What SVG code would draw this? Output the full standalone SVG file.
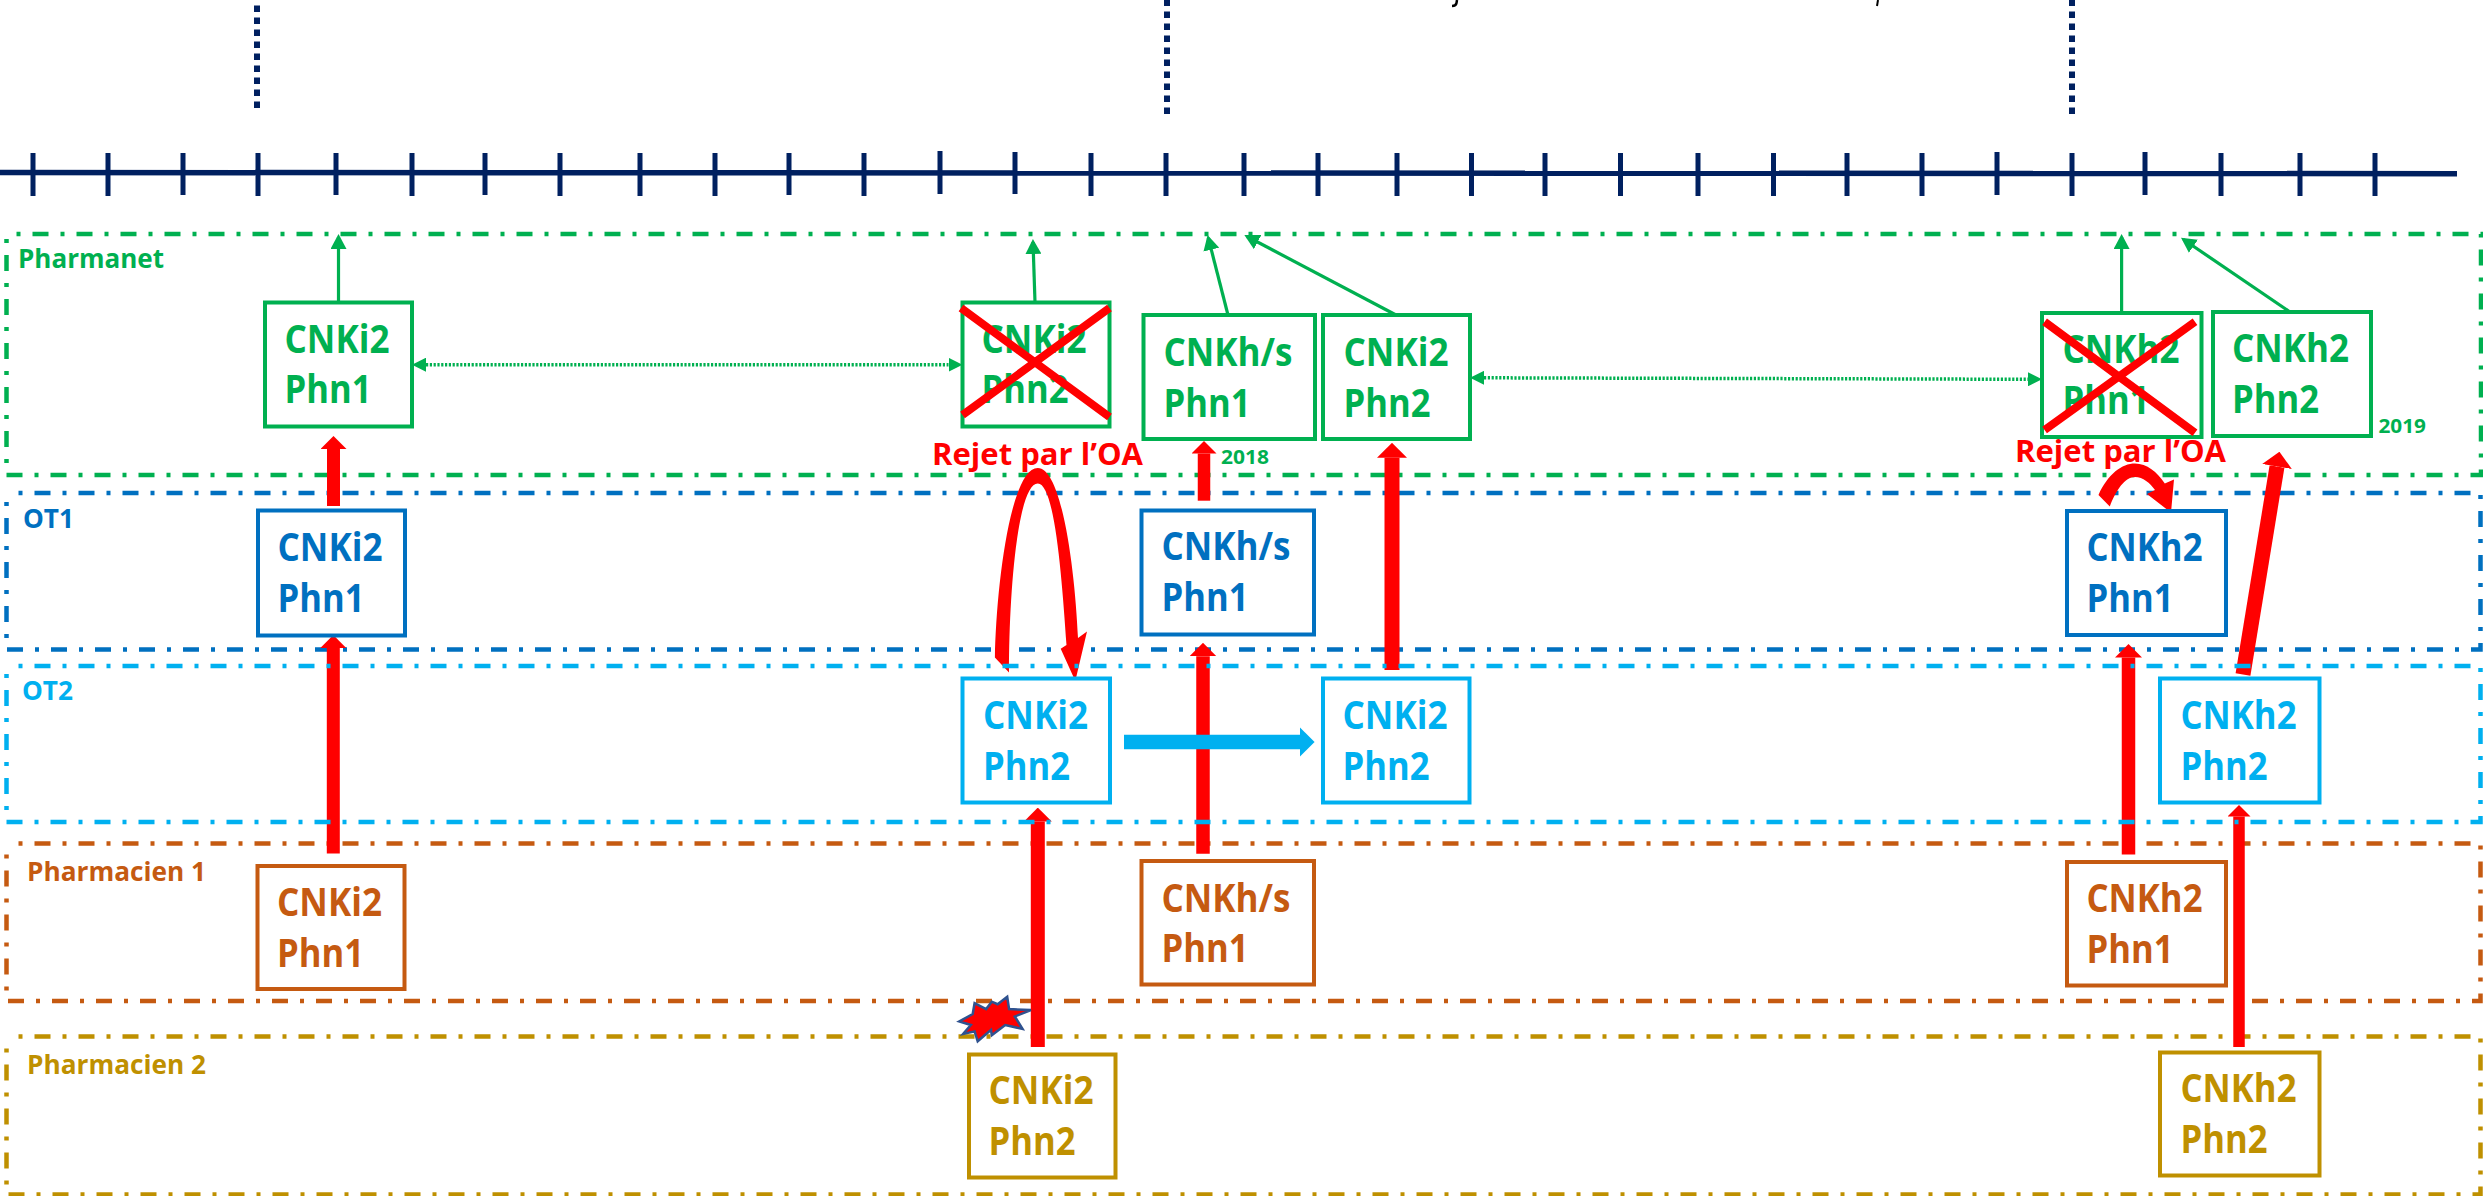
<svg xmlns="http://www.w3.org/2000/svg" width="2483" height="1196" viewBox="0 0 2483 1196">
<style>
text{font-family:"Open Sans","Noto Sans","Liberation Sans",sans-serif;font-weight:700}
.n{font-size:40px}
.l{font-size:27px}
.rej{font-size:31px;fill:#FF0000}
.yr{font-size:20px;fill:#00B050}
.box{fill:#fff;stroke-width:4}
.lane{fill:none;stroke-width:4.5;stroke-dasharray:16 12 4 12}
.g{fill:#00B050}.gs{stroke:#00B050}
.b{fill:#0070C0}.bs{stroke:#0070C0}
.c{fill:#00B0F0}.cs{stroke:#00B0F0}
.o{fill:#C55A11}.os{stroke:#C55A11}
.y{fill:#BF9000}.ys{stroke:#BF9000}
.tick{stroke:#002060;stroke-width:5}
.vd{stroke:#002060;stroke-width:6;stroke-dasharray:6.5 5.5}
.red{stroke:#FF0000;fill:none;marker-end:url(#rh)}
.rf{fill:#FF0000}
.thin{stroke:#00B050;stroke-width:3.2;fill:none;marker-end:url(#gh)}
.dot{stroke:#00B050;stroke-width:3.5;stroke-dasharray:2.2 1.6;fill:none;marker-start:url(#gd);marker-end:url(#gd)}
.x{stroke:#FF0000;stroke-width:8}
</style>
<defs>
<marker id="rh" markerUnits="strokeWidth" viewBox="0 0 1 2" refX="0" refY="1" markerWidth="1" markerHeight="2" orient="auto"><path d="M0,0L1,1L0,2Z" fill="#FF0000"/></marker>
<marker id="bh" markerUnits="strokeWidth" viewBox="0 0 1 2" refX="0" refY="1" markerWidth="1" markerHeight="2" orient="auto"><path d="M0,0L1,1L0,2Z" fill="#00B0F0"/></marker>
<marker id="gh" markerUnits="userSpaceOnUse" viewBox="0 0 15 16" refX="12" refY="8" markerWidth="15" markerHeight="16" orient="auto"><path d="M0,0L15,8L0,16Z" fill="#00B050"/></marker>
<marker id="gd" markerUnits="userSpaceOnUse" viewBox="0 0 14 14" refX="0" refY="7" markerWidth="14" markerHeight="14" orient="auto-start-reverse"><path d="M0,0L14,7L0,14Z" fill="#00B050"/></marker>
</defs>

<g id="top-fragments" fill="none" stroke="#000">
<path d="M1457,0L1456.5,3Q1456,6 1452,6" stroke-width="2.5"/>
<path d="M1878,0L1877,6" stroke-width="2"/>
</g>

<g id="timeline">
<line x1="0" y1="172.5" x2="2457" y2="173.7" stroke="#002060" stroke-width="5.5"/>
<g class="tick">
<path d="M33,153V196M108,153V196M183,153V195M258,153V196M336,153V195M412,153V196M485,153V195M560,153V196M640,153V196M715,153V196M789,153V195M864,153V196M940,151V194M1015,152V194M1091,153V196M1166,153V196M1244,153V196M1318,153V196M1397,153V196M1471.5,153V196M1545,153V196M1620.5,153V196M1698,153V196M1773.5,153V196M1847,153V196M1922,153V196M1997,152V195M2072,153V196M2145,152V195M2221,153V196M2300,153V196M2375,153V196"/>
</g>
<line class="vd" x1="257" y1="108" x2="257" y2="0"/>
<line class="vd" x1="1167" y1="114" x2="1167" y2="0"/>
<line class="vd" x1="2072" y1="114" x2="2072" y2="0"/>
</g>

<g id="lanes">
<g id="lane-pharmanet"><rect class="lane gs" x="6.5" y="234" width="2474.5" height="241" stroke-dashoffset="18"/><text class="l g" x="18" y="268" textLength="146" lengthAdjust="spacingAndGlyphs">Pharmanet</text></g>
<g id="lane-ot1"><rect class="lane bs" x="6.5" y="493" width="2474" height="156.5" stroke-dashoffset="16"/><text class="l b" x="23" y="527.5" textLength="51" lengthAdjust="spacingAndGlyphs">OT1</text></g>
<g id="lane-ph1"><rect class="lane os" x="6.5" y="843.5" width="2474" height="157.5" stroke-dashoffset="16"/><text class="l o" x="27" y="881" textLength="179" lengthAdjust="spacingAndGlyphs">Pharmacien 1</text></g>
<g id="lane-ph2"><rect class="lane ys" x="6.5" y="1036.5" width="2474" height="158" stroke-dashoffset="16"/><text class="l y" x="27" y="1073.5" textLength="179" lengthAdjust="spacingAndGlyphs">Pharmacien 2</text></g>
</g>

<g id="connectors">
<line class="thin" x1="338.5" y1="302" x2="338.5" y2="237"/>
<line class="thin" x1="1035" y1="302" x2="1033" y2="242"/>
<line class="thin" x1="1228" y1="315" x2="1208.3" y2="238"/>
<line class="thin" x1="1396" y1="315" x2="1247" y2="236.5"/>
<line class="thin" x1="2121.6" y1="313" x2="2121.6" y2="237"/>
<line class="thin" x1="2290" y1="312" x2="2183.5" y2="239.5"/>
<line class="dot" x1="426" y1="364.7" x2="948.5" y2="364.7"/>
<line class="dot" x1="1484" y1="377.8" x2="2028" y2="379.3"/>
<line class="red" stroke-width="13" x1="333.5" y1="506" x2="333.5" y2="449"/>
<line class="red" stroke-width="13" x1="333.3" y1="853.5" x2="333.3" y2="648"/>
<line class="red" stroke-width="14" x1="1037.8" y1="1047" x2="1037.8" y2="821.6"/>
<line class="red" stroke-width="13.5" x1="1203" y1="853.7" x2="1203" y2="656.3"/>
<line class="red" stroke-width="12.5" x1="1204" y1="500.7" x2="1204" y2="453.5"/>
<line class="red" stroke-width="15" x1="1392" y1="670" x2="1392" y2="457.8"/>
<line class="red" stroke-width="13.5" x1="2128.5" y1="854.6" x2="2128.5" y2="657.5"/>
<line class="red" stroke-width="11.5" x1="2239" y1="1047" x2="2239" y2="816.5"/>
<line class="red" stroke-width="15" x1="2243" y1="674.5" x2="2277" y2="466.5"/>
<path class="rf" d="M994.9,657.6C996,590 1010,468 1037.8,468C1062,468 1075,570 1078,638L1087,631.4L1075.3,681L1060.7,648.7L1066.5,645C1062,580 1055,483.4 1037.8,483.4C1018,483.4 1009,590 1009,672.5Z"/>
<path class="rf" d="M2098.5,495C2108,474 2122,463.6 2135,463.6C2147,463.6 2157,472 2164.8,483.4L2174,479.4L2171,512.6L2147,494L2155,490C2150,483 2143,477 2135,477C2125,477 2116,490 2109.8,506.6Z"/>
<line stroke="#00B0F0" stroke-width="14.6" marker-end="url(#bh)" x1="1124" y1="742" x2="1300" y2="742"/>
</g>

<g id="lane-ot2"><rect class="lane cs" x="6.5" y="666" width="2474" height="156" stroke-dashoffset="16"/><text class="l c" x="22" y="699.5" textLength="51" lengthAdjust="spacingAndGlyphs">OT2</text></g>

<g id="burst"><polygon fill="#FF0000" stroke="#2F528F" stroke-width="2.5" points="1030.9,1010.1 1014.8,1016.5 1022.5,1028.9 1005.2,1025 991.8,1035.3 991,1029.9 977.7,1041.3 974.6,1031.4 963.1,1033.9 970.8,1025 959.3,1021.5 972.7,1014 974.6,1003.2 986.1,1009.1 991.8,1001.7 997.6,1004.2 1007.2,996.7 1009.1,1009.1"/></g>

<g id="n-pharmanet-cnki2-phn1"><rect class="box gs" x="265" y="302.5" width="147" height="124"/><text class="n g" x="284.5" y="352.7" textLength="105" lengthAdjust="spacingAndGlyphs">CNKi2</text><text class="n g" x="284.5" y="403" textLength="87" lengthAdjust="spacingAndGlyphs">Phn1</text></g>
<g id="n-pharmanet-cnki2-phn2-rejected"><rect class="box gs" x="962.5" y="302.5" width="147" height="124"/><text class="n g" x="981.5" y="352.7" textLength="105" lengthAdjust="spacingAndGlyphs">CNKi2</text><text class="n g" x="981.5" y="403" textLength="87" lengthAdjust="spacingAndGlyphs">Phn2</text><path class="x" d="M961,308L1109.5,417M1109.5,308L962.5,415"/></g>
<g id="n-pharmanet-cnkhs-phn1"><rect class="box gs" x="1143.5" y="315" width="171.5" height="124"/><text class="n g" x="1163.5" y="366" textLength="129" lengthAdjust="spacingAndGlyphs">CNKh/s</text><text class="n g" x="1163.5" y="416.7" textLength="87" lengthAdjust="spacingAndGlyphs">Phn1</text></g>
<g id="n-pharmanet-cnki2-phn2"><rect class="box gs" x="1323" y="315" width="147" height="124"/><text class="n g" x="1343.5" y="366" textLength="105" lengthAdjust="spacingAndGlyphs">CNKi2</text><text class="n g" x="1343.5" y="416.7" textLength="87" lengthAdjust="spacingAndGlyphs">Phn2</text></g>
<g id="n-pharmanet-cnkh2-phn1-rejected"><rect class="box gs" x="2042" y="313" width="159.5" height="124"/><text class="n g" x="2062.5" y="363" textLength="117" lengthAdjust="spacingAndGlyphs">CNKh2</text><text class="n g" x="2062.5" y="414" textLength="87" lengthAdjust="spacingAndGlyphs">Phn1</text><path class="x" d="M2044.6,321.7L2195,432.7M2195,321.7L2044.6,430"/></g>
<g id="n-pharmanet-cnkh2-phn2"><rect class="box gs" x="2213" y="312" width="158" height="124"/><text class="n g" x="2232" y="362" textLength="117" lengthAdjust="spacingAndGlyphs">CNKh2</text><text class="n g" x="2232" y="413" textLength="87" lengthAdjust="spacingAndGlyphs">Phn2</text></g>

<g id="n-ot1-cnki2-phn1"><rect class="box bs" x="258" y="510.5" width="147" height="125"/><text class="n b" x="277.5" y="561" textLength="105" lengthAdjust="spacingAndGlyphs">CNKi2</text><text class="n b" x="277.5" y="611.5" textLength="87" lengthAdjust="spacingAndGlyphs">Phn1</text></g>
<g id="n-ot1-cnkhs-phn1"><rect class="box bs" x="1141.5" y="510.5" width="172.5" height="124"/><text class="n b" x="1161.5" y="560" textLength="129" lengthAdjust="spacingAndGlyphs">CNKh/s</text><text class="n b" x="1161.5" y="610.6" textLength="87" lengthAdjust="spacingAndGlyphs">Phn1</text></g>
<g id="n-ot1-cnkh2-phn1"><rect class="box bs" x="2067" y="511" width="159" height="124"/><text class="n b" x="2086.5" y="560.6" textLength="116" lengthAdjust="spacingAndGlyphs">CNKh2</text><text class="n b" x="2086.5" y="611.6" textLength="87" lengthAdjust="spacingAndGlyphs">Phn1</text></g>

<g id="n-ot2-cnki2-phn2-a"><rect class="box cs" x="962.5" y="678.5" width="147.5" height="124"/><text class="n c" x="983" y="729.4" textLength="105" lengthAdjust="spacingAndGlyphs">CNKi2</text><text class="n c" x="983" y="780" textLength="87" lengthAdjust="spacingAndGlyphs">Phn2</text></g>
<g id="n-ot2-cnki2-phn2-b"><rect class="box cs" x="1323" y="678.5" width="146.5" height="124"/><text class="n c" x="1342.5" y="729.4" textLength="105" lengthAdjust="spacingAndGlyphs">CNKi2</text><text class="n c" x="1342.5" y="780" textLength="87" lengthAdjust="spacingAndGlyphs">Phn2</text></g>
<g id="n-ot2-cnkh2-phn2"><rect class="box cs" x="2160" y="678.5" width="159.5" height="124"/><text class="n c" x="2180.5" y="729.4" textLength="116" lengthAdjust="spacingAndGlyphs">CNKh2</text><text class="n c" x="2180.5" y="780" textLength="87" lengthAdjust="spacingAndGlyphs">Phn2</text></g>

<g id="n-ph1-cnki2-phn1"><rect class="box os" x="257.5" y="866" width="147" height="123"/><text class="n o" x="277" y="916" textLength="105" lengthAdjust="spacingAndGlyphs">CNKi2</text><text class="n o" x="277" y="967" textLength="87" lengthAdjust="spacingAndGlyphs">Phn1</text></g>
<g id="n-ph1-cnkhs-phn1"><rect class="box os" x="1141.5" y="861" width="172.5" height="123.5"/><text class="n o" x="1161.5" y="911.6" textLength="129" lengthAdjust="spacingAndGlyphs">CNKh/s</text><text class="n o" x="1161.5" y="962" textLength="87" lengthAdjust="spacingAndGlyphs">Phn1</text></g>
<g id="n-ph1-cnkh2-phn1"><rect class="box os" x="2067" y="862" width="159" height="123.5"/><text class="n o" x="2086.5" y="911.6" textLength="116" lengthAdjust="spacingAndGlyphs">CNKh2</text><text class="n o" x="2086.5" y="963" textLength="87" lengthAdjust="spacingAndGlyphs">Phn1</text></g>

<g id="n-ph2-cnki2-phn2"><rect class="box ys" x="969" y="1054.5" width="146.5" height="123"/><text class="n y" x="988.5" y="1104" textLength="105" lengthAdjust="spacingAndGlyphs">CNKi2</text><text class="n y" x="988.5" y="1155" textLength="87" lengthAdjust="spacingAndGlyphs">Phn2</text></g>
<g id="n-ph2-cnkh2-phn2"><rect class="box ys" x="2160" y="1052.5" width="159.5" height="123"/><text class="n y" x="2180.5" y="1102" textLength="116" lengthAdjust="spacingAndGlyphs">CNKh2</text><text class="n y" x="2180.5" y="1152.7" textLength="87" lengthAdjust="spacingAndGlyphs">Phn2</text></g>

<g id="annotations">
<text class="rej" x="932" y="464.5" textLength="211" lengthAdjust="spacingAndGlyphs">Rejet par l’OA</text>
<text class="rej" x="2015" y="462" textLength="211" lengthAdjust="spacingAndGlyphs">Rejet par l’OA</text>
<text class="yr" x="1221" y="463.6" textLength="48" lengthAdjust="spacingAndGlyphs">2018</text>
<text class="yr" x="2378.5" y="433" textLength="47.5" lengthAdjust="spacingAndGlyphs">2019</text>
</g>
</svg>
